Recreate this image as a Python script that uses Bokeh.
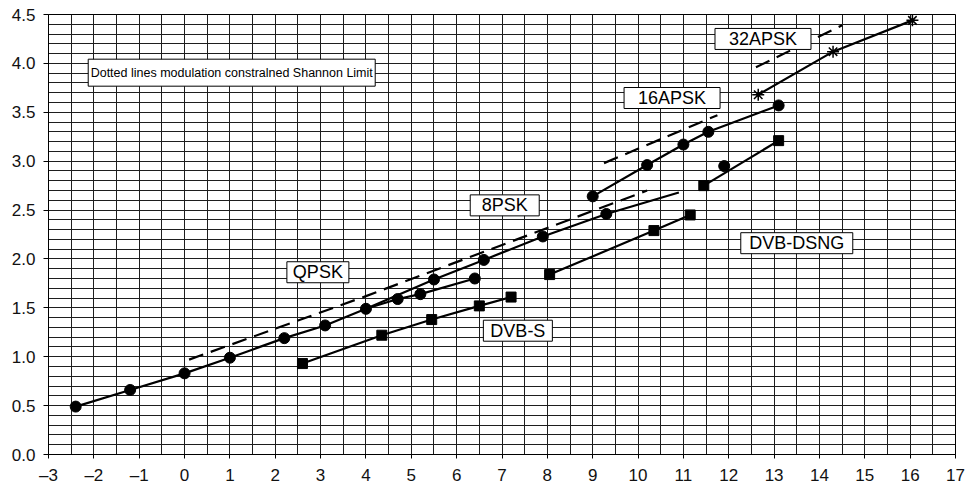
import numpy as np
from bokeh.plotting import figure
from bokeh.models import FixedTicker, Range1d
from bokeh.core.properties import value
from bokeh.embed import file_html
from bokeh.resources import INLINE

# ---------------- data ----------------
qpsk_x = [-2.4, -1.2, 0.0, 1.0, 2.2, 3.1, 4.0, 4.7, 5.2, 6.4]
qpsk_y = [0.49, 0.66, 0.83, 0.99, 1.19, 1.32, 1.49, 1.59, 1.64, 1.80]

psk8_line_x = [4.0, 5.5, 6.6, 7.9, 9.3, 10.9]
psk8_line_y = [1.49, 1.79, 1.99, 2.23, 2.46, 2.68]
psk8_x = [5.5, 6.6, 7.9, 9.3]
psk8_y = [1.79, 1.99, 2.23, 2.46]

apsk16_x = [9.0, 10.2, 11.0, 11.55, 13.1]
apsk16_y = [2.64, 2.96, 3.17, 3.30, 3.57]

apsk32_x = [12.65, 14.3, 16.05]
apsk32_y = [3.68, 4.12, 4.44]

dvbs_x = [2.6, 4.35, 5.45, 6.5, 7.2]
dvbs_y = [0.93, 1.22, 1.38, 1.52, 1.61]

dsng1_x = [8.05, 10.35, 11.15]
dsng1_y = [1.84, 2.29, 2.45]
dsng2_x = [11.45, 13.1]
dsng2_y = [2.75, 3.21]
dsng_circle_x = [11.9]
dsng_circle_y = [2.95]

shannon_low_x = [0.1, 4.0, 10.2]
shannon_low_y = [0.97, 1.62, 2.70]
shannon_16_x = [9.25, 11.75]
shannon_16_y = [2.98, 3.47]
shannon_32_x = [12.6, 14.5]
shannon_32_y = [3.96, 4.39]

x_ticks = list(range(-3, 18))
x_tick_labels = ["\u20133", "\u20132", "\u20131"] + [str(v) for v in range(0, 18)]
y_ticks = [0.0, 0.5, 1.0, 1.5, 2.0, 2.5, 3.0, 3.5, 4.0, 4.5]
y_tick_labels = ["0.0", "0.5", "1.0", "1.5", "2.0", "2.5", "3.0", "3.5", "4.0", "4.5"]

label_texts = ["QPSK", "8PSK", "16APSK", "32APSK", "DVB-S", "DVB-DSNG"]
note_text = "Dotted lines modulation constralned Shannon Limit"

# ---------------- figure ----------------
FONT = "Liberation Sans"
p = figure(width=967, height=487, x_range=Range1d(-3, 17), y_range=Range1d(0, 4.5),
           output_backend="svg", toolbar_location=None,
           min_border_left=48, min_border_right=12, min_border_top=14, min_border_bottom=31)
p.background_fill_color = "white"
p.border_fill_color = "white"
p.outline_line_color = "black"
p.outline_line_width = 1

p.xgrid.ticker = FixedTicker(ticks=[float(v) for v in np.arange(-3, 17.01, 0.5)])
p.ygrid.ticker = FixedTicker(ticks=[round(float(v), 2) for v in np.arange(0, 4.501, 0.1)])
for g in (p.xgrid, p.ygrid):
    g.grid_line_color = "#1e1e1e"
    g.grid_line_width = 1
    g.grid_line_alpha = 1

p.xaxis.ticker = FixedTicker(ticks=x_ticks)
p.xaxis.major_label_overrides = {t: l for t, l in zip(x_ticks, x_tick_labels)}
p.yaxis.ticker = FixedTicker(ticks=y_ticks)
p.yaxis.major_label_overrides = {t: l for t, l in zip(y_ticks, y_tick_labels)}
for ax in (p.xaxis, p.yaxis):
    ax.axis_line_color = "black"
    ax.major_tick_line_color = "black"
    ax.minor_tick_line_color = None
    ax.major_tick_in = 0
    ax.major_label_text_font = FONT
    ax.major_label_text_font_size = "17px"
    ax.major_label_text_color = "#111111"
p.xaxis.major_tick_out = 4
p.xaxis.major_label_standoff = 7
p.yaxis.major_tick_out = 5
p.yaxis.major_label_standoff = 8

# dashed Shannon limits
for xs, ys in ((shannon_low_x, shannon_low_y), (shannon_16_x, shannon_16_y), (shannon_32_x, shannon_32_y)):
    p.line(xs, ys, line_color="black", line_width=2.2, line_dash="15 8")

# solid curves
LW = 2.2
p.line(qpsk_x, qpsk_y, line_color="black", line_width=LW)
p.line(psk8_line_x, psk8_line_y, line_color="black", line_width=LW)
p.line(apsk16_x, apsk16_y, line_color="black", line_width=LW)
p.line(apsk32_x, apsk32_y, line_color="black", line_width=LW)
p.line(dvbs_x, dvbs_y, line_color="black", line_width=LW)
p.line(dsng1_x, dsng1_y, line_color="black", line_width=LW)
p.line(dsng2_x, dsng2_y, line_color="black", line_width=LW)

# markers
p.scatter(qpsk_x, qpsk_y, marker="circle", size=11, color="black")
p.scatter(psk8_x, psk8_y, marker="circle", size=11, color="black")
p.scatter(apsk16_x, apsk16_y, marker="circle", size=11, color="black")
p.scatter(dsng_circle_x, dsng_circle_y, marker="circle", size=11, color="black")
p.scatter(apsk32_x, apsk32_y, marker="asterisk", size=12, line_color="black", line_width=1.5)
p.scatter(dvbs_x, dvbs_y, marker="square", size=10, color="black")
p.scatter(dsng1_x, dsng1_y, marker="square", size=10, color="black")
p.scatter(dsng2_x, dsng2_y, marker="square", size=10, color="black")

# label boxes (positions are layout, in data units; box sizes in pixels)
label_pos_x = [2.94, 7.06, 10.75, 12.755, 7.35, 13.5]
label_pos_y = [1.864, 2.548, 3.646, 4.25, 1.266, 2.161]
label_box_w = [62, 69, 96, 96, 69, 112]
box_h = 21
p.rect(label_pos_x, label_pos_y, width=label_box_w, height=box_h,
       width_units="screen", height_units="screen",
       fill_color="white", line_color="black", line_width=1)
p.text(label_pos_x, label_pos_y, text=label_texts, text_font=value(FONT),
       text_font_size="18px", text_align="center", text_baseline="middle", text_color="black")

# note box
p.rect([1.04], [3.905], width=287, height=27, width_units="screen", height_units="screen",
       fill_color="white", line_color="black", line_width=1)
p.text([1.04], [3.905], text=[note_text], text_font=value(FONT),
       text_font_size="12.5px", text_align="center", text_baseline="middle", text_color="black")

open("out.html", "w").write(file_html(p, INLINE))
